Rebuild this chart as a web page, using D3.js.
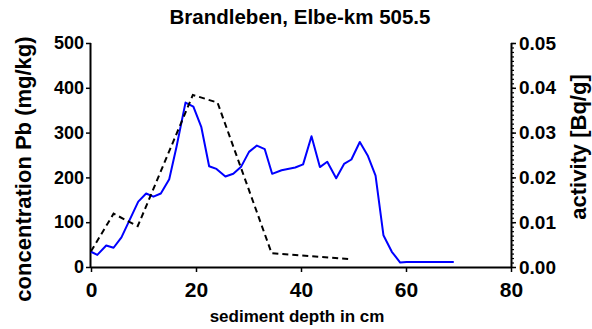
<!DOCTYPE html>
<html><head><meta charset="utf-8">
<script src="https://cdn.jsdelivr.net/npm/d3@7"></script>
<style>body{margin:0;background:#fff}svg{display:block}text{font-family:"Liberation Sans",Arial,sans-serif;font-weight:bold;fill:#000}</style>
</head><body>
<script>
const title = "Brandleben, Elbe-km 505.5";
const xLabel = "sediment depth in cm";
const yLeftLabel = "concentration Pb (mg/kg)";
const yRightLabel = "activity [Bq/g]";
const xTicks = [0, 20, 40, 60, 80];
const yLeftTicks = [0, 100, 200, 300, 400, 500];
const yRightTicks = [0, 0.01, 0.02, 0.03, 0.04, 0.05];

const pbDepth = [0, 1.2, 2.9, 4.3, 5.8, 9, 10.5, 11.9, 13.3, 14.9, 16.3, 18, 19.5, 21, 22.5, 23.9, 25.6, 27.1, 28.6, 30.1, 31.6, 33.1, 34.5, 36.3, 38.9, 40.4, 42, 43.6, 45, 46.7, 48.2, 49.6, 51.2, 52.7, 54.2, 55.7, 57.3, 58.9, 60.1, 69.1];
const pbValue = [34, 27, 48, 43, 66, 146, 164, 157, 164, 196, 269, 367, 358, 313, 225, 219, 202, 208, 224, 257, 271, 263, 208, 216, 222, 229, 292, 223, 235, 198, 230, 240, 279, 249, 204, 71, 34, 10, 11, 11];

const actDepth = [0, 4.3, 8.9, 19.4, 24.1, 34.4, 49.7];
const actValue = [0.0035, 0.0119, 0.0091, 0.0384, 0.0367, 0.0031, 0.0017];

const W = 592, H = 329;
const m = {left: 91, right: 81, top: 43, bottom: 62};
const svg = d3.select("body").append("svg").attr("width", W).attr("height", H);

const x = d3.scaleLinear().domain([0, 80]).range([m.left, W - m.right]);
const yL = d3.scaleLinear().domain([0, 500]).range([H - m.bottom, m.top]);
const yR = d3.scaleLinear().domain([0, 0.05]).range([H - m.bottom, m.top]);

const gx = svg.append("g").attr("transform", `translate(0,${H - m.bottom})`)
  .call(d3.axisBottom(x).tickValues(xTicks).tickSize(5).tickPadding(10).tickFormat(d3.format("d")));
const gl = svg.append("g").attr("transform", `translate(${m.left},0)`)
  .call(d3.axisLeft(yL).tickValues(yLeftTicks).tickSize(5).tickPadding(2).tickFormat(d3.format("d")));
const minor = d3.range(0, 51).map(i => i / 1000);
const gm = svg.append("g").attr("transform", `translate(${W - m.right},0)`)
  .call(d3.axisRight(yR).tickValues(minor).tickSize(3).tickFormat(""));
gm.select(".domain").remove();
gm.selectAll(".tick line").attr("stroke", "#000").attr("stroke-width", 1.2);
const gr = svg.append("g").attr("transform", `translate(${W - m.right},0)`)
  .call(d3.axisRight(yR).tickValues(yRightTicks).tickSize(5).tickPadding(3).tickFormat(d3.format(".2f")));

[gx, gl, gr].forEach(g => {
  g.selectAll(".domain").attr("stroke", "#000").attr("stroke-width", 2);
  g.selectAll(".tick line").attr("stroke", "#000").attr("stroke-width", 1.5);
  g.selectAll(".tick text").style("font-weight", "bold").attr("fill", "#000");
});
gx.selectAll(".tick text").style("font-size", "21px");
gl.selectAll(".tick text").style("font-size", "18px");
gr.selectAll(".tick text").style("font-size", "19px");
gx.select(".domain").attr("d", `M${m.left},0.5H${W - m.right}`);
gl.select(".domain").attr("d", `M-0.5,${H - m.bottom}V${m.top}`);
gr.select(".domain").attr("d", `M0.5,${H - m.bottom}V${m.top}`);

const pbData = pbDepth.map((d, i) => [d, pbValue[i]]);
const actData = actDepth.map((d, i) => [d, actValue[i]]);
svg.append("path").datum(pbData)
  .attr("fill", "none").attr("stroke", "#0000ff").attr("stroke-width", 2).attr("stroke-linejoin", "round")
  .attr("d", d3.line().x(d => x(d[0])).y(d => yL(d[1])));
svg.append("path").datum(actData)
  .attr("fill", "none").attr("stroke", "#000").attr("stroke-width", 2).attr("stroke-dasharray", "6,4")
  .attr("d", d3.line().x(d => x(d[0])).y(d => yR(d[1])));

svg.append("text").attr("x", 300).attr("y", 24).attr("text-anchor", "middle").style("font-size", "20.5px").text(title);
svg.append("text").attr("x", 297).attr("y", 322).attr("text-anchor", "middle").style("font-size", "17px").text(xLabel);
svg.append("text").attr("transform", `translate(31,169) rotate(-90)`)
  .attr("text-anchor", "middle").style("font-size", "22px").text(yLeftLabel);
svg.append("text").attr("transform", `translate(586,147) rotate(-90)`)
  .attr("text-anchor", "middle").style("font-size", "22px").text(yRightLabel);
</script>
</body></html>
